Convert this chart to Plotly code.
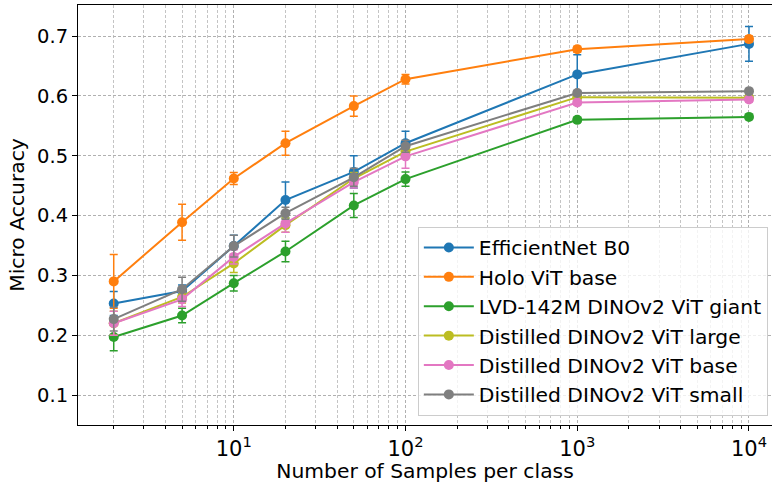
import plotly.graph_objects as go

samples = [2, 5, 10, 20, 50, 100, 1000, 10000]

names = [
    "EfficientNet B0",
    "Holo ViT base",
    "LVD-142M DINOv2 ViT giant",
    "Distilled DINOv2 ViT large",
    "Distilled DINOv2 ViT base",
    "Distilled DINOv2 ViT small",
]
colors = ["#1f77b4", "#ff7f0e", "#2ca02c", "#bcbd22", "#e377c2", "#7f7f7f"]

effnet = [0.253, 0.274, 0.349, 0.426, 0.473, 0.521, 0.636, 0.687]
effnet_err = [0.02, 0.01, 0.018, 0.03, 0.027, 0.02, 0.033, 0.029]

holo = [0.290, 0.389, 0.462, 0.521, 0.583, 0.628, 0.678, 0.695]
holo_err = [0.045, 0.03, 0.01, 0.02, 0.017, 0.008, 0.005, 0.005]

giant = [0.197, 0.233, 0.287, 0.340, 0.417, 0.461, 0.560, 0.565]
giant_err = [0.023, 0.012, 0.013, 0.017, 0.02, 0.012, 0.004, 0.004]

large = [0.220, 0.264, 0.320, 0.384, 0.462, 0.507, 0.598, 0.597]
large_err = [0.02, 0.01, 0.015, 0.012, 0.01, 0.01, 0.004, 0.004]

base = [0.220, 0.260, 0.331, 0.387, 0.456, 0.499, 0.589, 0.594]
base_err = [0.02, 0.012, 0.012, 0.015, 0.01, 0.02, 0.004, 0.004]

small = [0.227, 0.277, 0.349, 0.404, 0.464, 0.516, 0.605, 0.608]
small_err = [0.02, 0.02, 0.018, 0.01, 0.015, 0.01, 0.004, 0.004]

series = [effnet, holo, giant, large, base, small]
errors = [effnet_err, holo_err, giant_err, large_err, base_err, small_err]

y_ticks = [0.1, 0.2, 0.3, 0.4, 0.5, 0.6, 0.7]
x_ticks = [10, 100, 1000, 10000]
x_tick_text = ["10<sup>1</sup>", "10<sup>2</sup>", "10<sup>3</sup>", "10<sup>4</sup>"]
x_minor_ticks = [m * d for d in (1, 10, 100, 1000) for m in range(2, 10)]

fig = go.Figure()
for name, color, ys, es in zip(names, colors, series, errors):
    fig.add_trace(go.Scatter(
        x=samples, y=ys, name=name, mode="lines+markers",
        line=dict(color=color, width=2),
        marker=dict(color=color, size=10),
        error_y=dict(type="data", array=es, visible=True, color=color,
                     thickness=1.5, width=4),
    ))

font = "DejaVu Sans, Arial, sans-serif"
grid_dash = "3px,2px"
fig.update_layout(
    width=772, height=483,
    margin=dict(l=78, r=0, t=5, b=58),
    paper_bgcolor="white", plot_bgcolor="white",
    font=dict(family=font, size=20, color="black"),
    showlegend=True,
    legend=dict(
        x=0.994, y=0.022, xanchor="right", yanchor="bottom",
        bgcolor="rgba(255,255,255,0.8)", bordercolor="#cccccc", borderwidth=1,
        font=dict(size=20.3), itemwidth=50, tracegroupgap=0,
    ),
)
fig.update_xaxes(
    type="log", range=[0.093, 4.134],
    tickvals=x_ticks, ticktext=x_tick_text,
    ticks="outside", ticklen=5, tickwidth=1, tickcolor="black",
    showline=True, linecolor="black", linewidth=1, mirror=True,
    showgrid=True, gridcolor="#b0b0b0", gridwidth=0.8, griddash=grid_dash,
    minor=dict(tickvals=x_minor_ticks, ticks="outside", ticklen=3, tickcolor="black",
               showgrid=True, gridcolor="#c4c4c4", gridwidth=0.6, griddash=grid_dash),
    title=dict(text="Number of Samples per class", font=dict(size=20.3), standoff=4),
    tickfont=dict(size=21), zeroline=False,
)
fig.update_yaxes(
    range=[0.05, 0.752], tickvals=y_ticks,
    ticktext=[f"{v:.1f}" for v in y_ticks],
    ticks="outside", ticklen=5, tickwidth=1, tickcolor="black",
    showline=True, linecolor="black", linewidth=1, mirror=False,
    showgrid=True, gridcolor="#b0b0b0", gridwidth=0.8, griddash=grid_dash,
    title=dict(text="Micro Accuracy", font=dict(size=20.3), standoff=6),
    tickfont=dict(size=19.5), zeroline=False,
)

fig.write_html("out.html")
